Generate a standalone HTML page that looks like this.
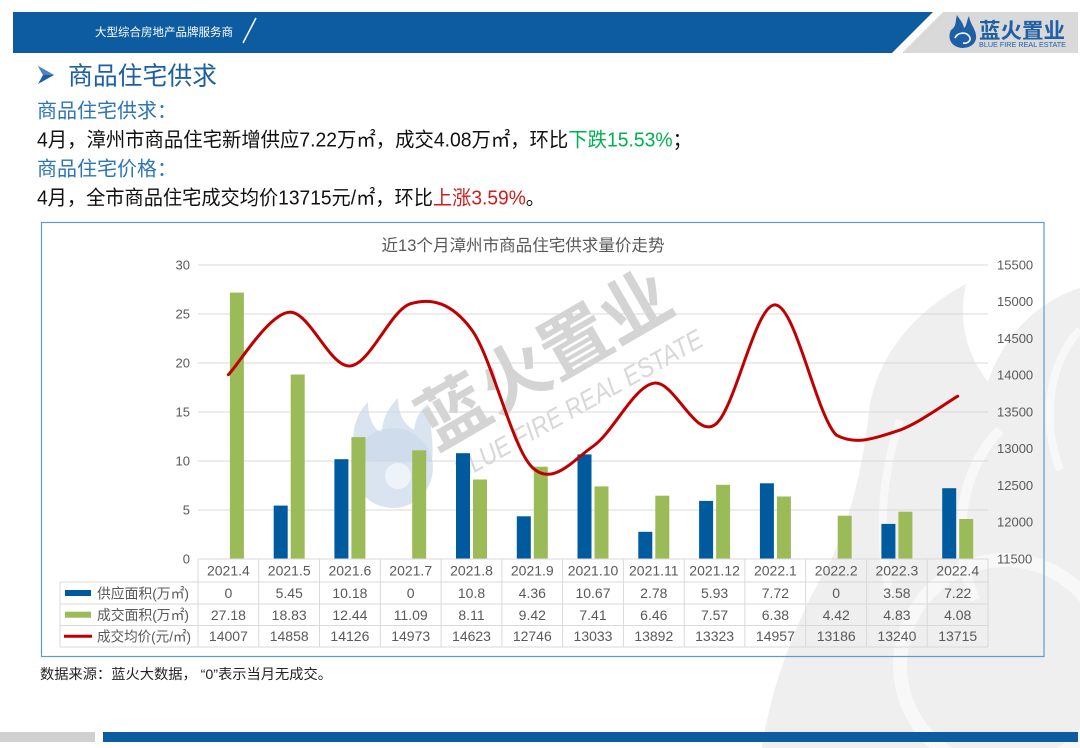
<!DOCTYPE html>
<html><head><meta charset="utf-8"><style>
html,body{margin:0;padding:0;background:#fff;}
svg{display:block;}
text{font-family:"Liberation Sans","Noto Sans CJK SC",sans-serif;}
</style></head><body>
<svg width="1080" height="748" viewBox="0 0 1080 748" xmlns="http://www.w3.org/2000/svg">
<rect width="1080" height="748" fill="#fff"/>
<!-- background gray flame watermark -->
<path d="M1080,288 C1040,300 1003,335 988,382 C972,360 956,330 966,284 C912,312 872,362 868,420 C862,470 850,520 830,562 C800,612 772,680 762,748 L1080,748 Z" fill="#efefef"/>
<path d="M900,420 C880,480 878,540 890,600" stroke="#f8f8f8" stroke-width="8" fill="none"/>
<path d="M1000,430 C960,470 950,540 975,600" stroke="#f8f8f8" stroke-width="10" fill="none"/>
<circle cx="1005" cy="665" r="105" stroke="#f8f8f8" stroke-width="14" fill="none"/>
<path d="M1080,330 C1050,360 1040,420 1060,470" stroke="#f8f8f8" stroke-width="8" fill="none"/>

<!-- header -->
<polygon points="13,12 933,12 892,53 13,53" fill="#0d5ba1"/>
<polygon points="943,12 1078,12 1078,53 902,53" fill="#d9d9d9"/>
<text x="95" y="36" font-size="11.5" fill="#fff" textLength="138" lengthAdjust="spacingAndGlyphs">大型综合房地产品牌服务商</text>
<line x1="243" y1="43" x2="256" y2="18" stroke="#fff" stroke-width="1.5"/>
<!-- logo -->
<path d="M951,30 C947,38 951,47 962,48 C972,48 977,42 976,35 C975,28 970,24 969,16 C966,22 967,26 964,28 C963,22 959,19 957,15 C955,21 957,26 951,30 Z" fill="#1f5fa6"/>
<path d="M955,38 C957,33 965,31 969,36 C972,40 968,44 963,43" stroke="#fff" stroke-width="1.6" fill="none"/>
<text x="979" y="38" font-size="21" font-weight="bold" fill="#1f5fa6" textLength="86" lengthAdjust="spacingAndGlyphs">蓝火置业</text>
<text x="979" y="47" font-size="7.5" fill="#1f5fa6" textLength="87" lengthAdjust="spacingAndGlyphs">BLUE FIRE REAL ESTATE</text>

<!-- title -->
<polygon points="38,66 54,75 38,84 43,75" fill="#1e5fa0"/>
<polygon points="38,66 54,75 43,75" fill="#4a86c5"/>
<text x="68" y="84.5" font-size="25" fill="#1e5fa0" textLength="149" lengthAdjust="spacingAndGlyphs">商品住宅供求</text>
<text x="37" y="117.5" font-size="20" fill="#2e75b6">商品住宅供求：</text>
<text x="37" y="146.5" font-size="20" fill="#111" textLength="655" lengthAdjust="spacingAndGlyphs">4月，漳州市商品住宅新增供应7.22万㎡，成交4.08万㎡，环比<tspan fill="#00b050">下跌15.53%</tspan>；</text>
<text x="37" y="175.5" font-size="20" fill="#2e75b6">商品住宅价格：</text>
<text x="37" y="204.5" font-size="20" fill="#111" textLength="508" lengthAdjust="spacingAndGlyphs">4月，全市商品住宅成交均价13715元/㎡，环比<tspan fill="#d01c1c">上涨3.59%</tspan>。</text>

<!-- chart box -->
<rect x="41.5" y="222.5" width="1002.5" height="434" fill="none" stroke="#5b9bd5" stroke-width="1.2"/>
<text x="381.5" y="251" font-size="16.5" fill="#595959" textLength="283" lengthAdjust="spacingAndGlyphs">近13个月漳州市商品住宅供求量价走势</text>

<!-- gridlines -->
<g stroke="#d9d9d9" stroke-width="1">
<line x1="198" y1="265" x2="988" y2="265"/>
<line x1="198" y1="314" x2="988" y2="314"/>
<line x1="198" y1="363" x2="988" y2="363"/>
<line x1="198" y1="412" x2="988" y2="412"/>
<line x1="198" y1="461" x2="988" y2="461"/>
<line x1="198" y1="510" x2="988" y2="510"/>
</g>

<!-- watermarks -->
<circle cx="393" cy="468" r="40" fill="#cbd9ea" opacity="0.7"/>
<path d="M356,460 C348,432 358,412 368,402 C368,420 375,430 382,433 C382,418 390,406 398,398 C398,415 405,425 414,430 C416,416 421,410 428,404 C430,422 434,442 432,462 Z" fill="#cbd9ea" opacity="0.7"/>
<circle cx="398" cy="476" r="13" fill="#eef3f9"/>
<text transform="translate(545,360) rotate(-30)" x="0" y="24" text-anchor="middle" font-size="70" font-weight="bold" fill="#d4d4d4" textLength="280" lengthAdjust="spacingAndGlyphs">蓝火置业</text>
<text transform="translate(578,404) rotate(-29)" x="0" y="10" text-anchor="middle" font-size="27" font-style="italic" fill="#d8d8d8" textLength="280" lengthAdjust="spacingAndGlyphs">BLUE FIRE REAL ESTATE</text>

<!-- bars supply -->
<g fill="#005a9e">
<rect x="273.7" y="505.6" width="14" height="53.4"/>
<rect x="334.4" y="459.2" width="14" height="99.8"/>
<rect x="456.0" y="453.2" width="14" height="105.8"/>
<rect x="516.8" y="516.3" width="14" height="42.7"/>
<rect x="577.5" y="454.4" width="14" height="104.6"/>
<rect x="638.3" y="531.8" width="14" height="27.2"/>
<rect x="699.1" y="500.9" width="14" height="58.1"/>
<rect x="759.9" y="483.3" width="14" height="75.7"/>
<rect x="881.4" y="523.9" width="14" height="35.1"/>
<rect x="942.2" y="488.2" width="14" height="70.8"/>
</g>
<!-- bars sales -->
<g fill="#9bbb59">
<rect x="229.9" y="292.6" width="14" height="266.4"/>
<rect x="290.7" y="374.5" width="14" height="184.5"/>
<rect x="351.4" y="437.1" width="14" height="121.9"/>
<rect x="412.2" y="450.3" width="14" height="108.7"/>
<rect x="473.0" y="479.5" width="14" height="79.5"/>
<rect x="533.8" y="466.7" width="14" height="92.3"/>
<rect x="594.5" y="486.4" width="14" height="72.6"/>
<rect x="655.3" y="495.7" width="14" height="63.3"/>
<rect x="716.1" y="484.8" width="14" height="74.2"/>
<rect x="776.9" y="496.5" width="14" height="62.5"/>
<rect x="837.7" y="515.7" width="14" height="43.3"/>
<rect x="898.4" y="511.7" width="14" height="47.3"/>
<rect x="959.2" y="519.0" width="14" height="40.0"/>
</g>

<!-- price line -->
<path d="M228.4,374.7 C238.53,364.28 268.94,313.65 289.2,312.2 C309.46,310.75 329.64,367.42 349.9,366.0 C370.16,364.58 390.44,309.78 410.7,303.7 C430.96,297.62 451.24,302.22 471.5,329.5 C491.76,356.78 512.04,447.93 532.3,467.4 C552.56,486.87 572.74,460.33 593.0,446.3 C613.26,432.27 633.54,386.75 653.8,383.2 C674.06,379.65 694.34,438.05 714.6,425.0 C734.86,411.95 755.14,303.22 775.4,304.9 C795.66,306.58 815.94,414.07 836.2,435.1 C856.46,446 876.64,437.58 896.9,431.1 C917.16,424.62 947.57,402.02 957.7,396.2" fill="none" stroke="#c00000" stroke-width="3" stroke-linejoin="round" stroke-linecap="round"/>

<!-- left axis labels -->
<g font-size="13" fill="#595959" text-anchor="end">
<text x="190" y="269.5">30</text>
<text x="190" y="318.5">25</text>
<text x="190" y="367.5">20</text>
<text x="190" y="416.5">15</text>
<text x="190" y="465.5">10</text>
<text x="190" y="514.5">5</text>
<text x="190" y="563.5">0</text>
</g>
<!-- right axis labels -->
<g font-size="13" fill="#595959">
<text x="997" y="269.5">15500</text>
<text x="997" y="306.2">15000</text>
<text x="997" y="343">14500</text>
<text x="997" y="379.7">14000</text>
<text x="997" y="416.5">13500</text>
<text x="997" y="453.2">13000</text>
<text x="997" y="490">12500</text>
<text x="997" y="526.7">12000</text>
<text x="997" y="563.5">11500</text>
</g>

<!-- data table -->
<g stroke="#d9d9d9" stroke-width="1" fill="none">
<line x1="198" y1="559" x2="988" y2="559"/>
<line x1="60" y1="582" x2="988" y2="582"/>
<line x1="60" y1="604" x2="988" y2="604"/>
<line x1="60" y1="625.5" x2="988" y2="625.5"/>
<line x1="60" y1="647" x2="988" y2="647"/>
<line x1="60" y1="582" x2="60" y2="647"/>
<line x1="198" y1="559" x2="198" y2="647"/>
<line x1="258.8" y1="559" x2="258.8" y2="647"/>
<line x1="319.5" y1="559" x2="319.5" y2="647"/>
<line x1="380.3" y1="559" x2="380.3" y2="647"/>
<line x1="441.1" y1="559" x2="441.1" y2="647"/>
<line x1="501.9" y1="559" x2="501.9" y2="647"/>
<line x1="562.6" y1="559" x2="562.6" y2="647"/>
<line x1="623.4" y1="559" x2="623.4" y2="647"/>
<line x1="684.2" y1="559" x2="684.2" y2="647"/>
<line x1="744.9" y1="559" x2="744.9" y2="647"/>
<line x1="805.7" y1="559" x2="805.7" y2="647"/>
<line x1="866.5" y1="559" x2="866.5" y2="647"/>
<line x1="927.2" y1="559" x2="927.2" y2="647"/>
<line x1="988" y1="559" x2="988" y2="647"/>
</g>
<rect x="65" y="590" width="26" height="6" fill="#005a9e"/>
<rect x="65" y="611.7" width="26" height="6" fill="#9bbb59"/>
<line x1="64" y1="636.2" x2="92" y2="636.2" stroke="#c00000" stroke-width="3"/>
<g font-size="14" fill="#595959">
<text x="97" y="598.3" textLength="92" lengthAdjust="spacingAndGlyphs">供应面积(万㎡)</text>
<text x="97" y="620" textLength="92" lengthAdjust="spacingAndGlyphs">成交面积(万㎡)</text>
<text x="97" y="641.5" textLength="94" lengthAdjust="spacingAndGlyphs">成交均价(元/㎡)</text>
</g>
<g font-size="14" fill="#595959" text-anchor="middle">
<text x="228.4" y="575.5">2021.4</text><text x="289.2" y="575.5">2021.5</text><text x="349.9" y="575.5">2021.6</text><text x="410.7" y="575.5">2021.7</text><text x="471.5" y="575.5">2021.8</text><text x="532.3" y="575.5">2021.9</text><text x="593.0" y="575.5">2021.10</text><text x="653.8" y="575.5">2021.11</text><text x="714.6" y="575.5">2021.12</text><text x="775.4" y="575.5">2022.1</text><text x="836.2" y="575.5">2022.2</text><text x="896.9" y="575.5">2022.3</text><text x="957.7" y="575.5">2022.4</text>
<text x="228.4" y="598">0</text><text x="289.2" y="598">5.45</text><text x="349.9" y="598">10.18</text><text x="410.7" y="598">0</text><text x="471.5" y="598">10.8</text><text x="532.3" y="598">4.36</text><text x="593.0" y="598">10.67</text><text x="653.8" y="598">2.78</text><text x="714.6" y="598">5.93</text><text x="775.4" y="598">7.72</text><text x="836.2" y="598">0</text><text x="896.9" y="598">3.58</text><text x="957.7" y="598">7.22</text>
<text x="228.4" y="619.8">27.18</text><text x="289.2" y="619.8">18.83</text><text x="349.9" y="619.8">12.44</text><text x="410.7" y="619.8">11.09</text><text x="471.5" y="619.8">8.11</text><text x="532.3" y="619.8">9.42</text><text x="593.0" y="619.8">7.41</text><text x="653.8" y="619.8">6.46</text><text x="714.6" y="619.8">7.57</text><text x="775.4" y="619.8">6.38</text><text x="836.2" y="619.8">4.42</text><text x="896.9" y="619.8">4.83</text><text x="957.7" y="619.8">4.08</text>
<text x="228.4" y="641.2">14007</text><text x="289.2" y="641.2">14858</text><text x="349.9" y="641.2">14126</text><text x="410.7" y="641.2">14973</text><text x="471.5" y="641.2">14623</text><text x="532.3" y="641.2">12746</text><text x="593.0" y="641.2">13033</text><text x="653.8" y="641.2">13892</text><text x="714.6" y="641.2">13323</text><text x="775.4" y="641.2">14957</text><text x="836.2" y="641.2">13186</text><text x="896.9" y="641.2">13240</text><text x="957.7" y="641.2">13715</text>
</g>

<!-- footnote -->
<text x="40" y="679" font-size="14" fill="#222" textLength="292" lengthAdjust="spacingAndGlyphs">数据来源：蓝火大数据， “0”表示当月无成交。</text>

<!-- bottom bars -->
<rect x="0" y="732" width="95" height="10" fill="#d0d0d0"/>
<rect x="103" y="732" width="975" height="10" fill="#0d5ba1"/>
</svg>
</body></html>
